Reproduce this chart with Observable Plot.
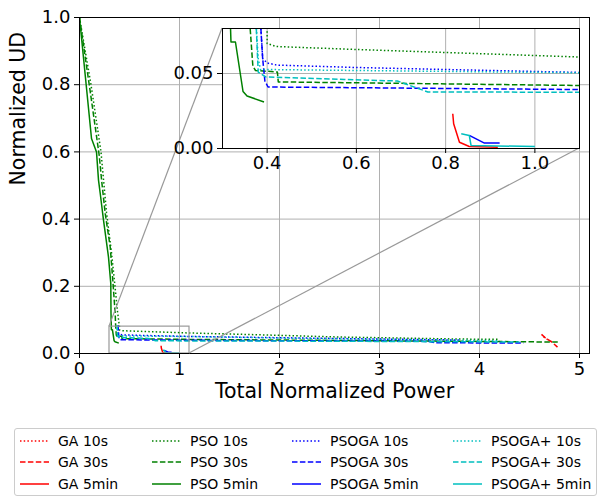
<!DOCTYPE html>
<html><head><meta charset="utf-8">
<script src="https://cdn.jsdelivr.net/npm/d3@7"></script>
<script src="https://cdn.jsdelivr.net/npm/@observablehq/plot@0.6"></script>
<style>
body{margin:0;background:#fff;font-family:"DejaVu Sans",sans-serif;}
#wrap{position:relative;width:601px;height:498px;overflow:hidden;background:#fff;}
#legend{position:absolute;left:14px;top:428px;width:583px;height:68px;border:1px solid #cccccc;border-radius:3px;background:#fff;box-sizing:border-box;font-size:14px;color:#000;}
.item{position:absolute;height:20px;line-height:20px;white-space:nowrap;}
.item svg{position:absolute;left:0;top:0;}
.item span{position:absolute;left:38px;top:0;}
</style></head><body><div id="wrap"></div><script>
// ---------- data ----------
const algorithms = ["GA", "PSO", "PSOGA", "PSOGA+"];
const budgets = ["10s", "30s", "5min"];
const algoColors = ["#ff0000", "#008000", "#0000ff", "#00bfbf"];
const budgetDash = ["1.5,2.2", "5.5,2.4", null];

const xTicks = [0, 1, 2, 3, 4, 5];
const yTicks = [0, 0.2, 0.4, 0.6, 0.8, 1.0];
const insetXTicks = [0.4, 0.6, 0.8, 1.0];
const insetYTicks = [0, 0.05];
const mainXDomain = [0, 5.1];
const mainYDomain = [0, 1.0];
const zoomXDomain = [0.3, 1.1];
const zoomYDomain = [0, 0.08];

const ga10s = [[4.64,0.050],[4.70,0.038]];
const ga30s = [[4.62,0.057],[4.66,0.046],[4.72,0.035],[4.78,0.019]];
const ga5min = [[0.816,0.0232],[0.818,0.0165],[0.831,0.0042],[0.853,0.0013],[0.917,0.0009]];

const pso10s = [[0,1.0],[0.115,0.80],[0.215,0.60],[0.27,0.42],[0.32,0.30],[0.355,0.20],[0.378,0.13],[0.395,0.09],[0.40,0.08],[0.40,0.070],[0.42,0.068],[0.6,0.066],[1.1,0.061],[1.5,0.058],[2.0,0.054],[2.6,0.049],[3.2,0.046],[3.8,0.043],[4.2,0.042]];
const pso30s = [[0,1.0],[0.107,0.78],[0.197,0.59],[0.223,0.51],[0.257,0.417],[0.307,0.317],[0.333,0.218],[0.357,0.118],[0.362,0.08],[0.368,0.055],[0.374,0.052],[0.423,0.051],[0.425,0.0444],[1.1,0.042],[2.0,0.040],[3.0,0.038],[4.0,0.036],[4.79,0.034]];
const pso5min = [[0,1.0],[0.12,0.64],[0.17,0.60],[0.19,0.516],[0.207,0.477],[0.24,0.397],[0.29,0.287],[0.313,0.208],[0.315,0.12],[0.318,0.08],[0.319,0.071],[0.329,0.071],[0.346,0.038],[0.355,0.035],[0.393,0.031]];

const psoga10s = [[0.385,0.085],[0.39,0.060],[0.40,0.057],[0.4225,0.0556],[0.6,0.054],[1.1,0.0507],[2.0,0.047],[3.0,0.043],[3.8,0.040]];
const psoga30s = [[0.385,0.085],[0.39,0.060],[0.395,0.045],[0.402,0.041],[1.1,0.0393],[2.0,0.038],[3.0,0.037],[3.5,0.036],[3.55,0.032],[4.44,0.031]];
const psoga5min = [[0.853,0.0087],[0.887,0.0036],[0.921,0.0036]];

const psogaPlus10s = [[0.375,0.085],[0.38,0.060],[0.385,0.0527],[0.6,0.052],[1.1,0.0505],[2.0,0.046],[3.0,0.042],[4.2,0.038]];
const psogaPlus30s = [[0.375,0.085],[0.38,0.051],[0.397,0.0477],[0.573,0.046],[0.692,0.045],[0.76,0.0377],[1.1,0.0375],[2.0,0.037],[3.0,0.036],[4.4,0.034]];
const psogaPlus5min = [[0.835,0.0098],[0.853,0.0087],[0.857,0.002],[1.0,0.0013]];

const seriesPoints = [
  [ga10s, ga30s, ga5min],
  [pso10s, pso30s, pso5min],
  [psoga10s, psoga30s, psoga5min],
  [psogaPlus10s, psogaPlus30s, psogaPlus5min]
];

// ---------- build ----------
const series = [];
algorithms.forEach((a, i) => budgets.forEach((b, j) => {
  series.push({label: `${a} ${b}`, color: algoColors[i], dash: budgetDash[j],
    rows: seriesPoints[i][j].map(([x, y]) => ({x, y}))});
}));

const lineMarks = (clip) => series.map(s => Plot.line(s.rows, {
  x: "x", y: "y", stroke: s.color, strokeWidth: 1.5,
  strokeDasharray: s.dash || undefined, clip, strokeLinejoin: "round", strokeLinecap: "butt"
}));

const FONT = "DejaVu Sans";
const wrap = document.getElementById("wrap");

const main = Plot.plot({
  width: 601, height: 420,
  marginLeft: 79, marginRight: 12, marginTop: 17, marginBottom: 67,
  x: {domain: mainXDomain}, y: {domain: mainYDomain},
  style: {fontFamily: FONT, background: "white", color: "black", overflow: "visible"},
  marks: [
    Plot.gridX(xTicks, {stroke: "#b0b0b0", strokeOpacity: 1, strokeWidth: 1}),
    Plot.gridY(yTicks, {stroke: "#b0b0b0", strokeOpacity: 1, strokeWidth: 1}),
    ...lineMarks(true),
    Plot.rect([{x1: zoomXDomain[0], x2: zoomXDomain[1], y1: zoomYDomain[0], y2: zoomYDomain[1]}],
      {x1: "x1", x2: "x2", y1: "y1", y2: "y2", fill: "none", stroke: "#999999", strokeWidth: 1.2}),
    Plot.frame({stroke: "black", strokeWidth: 1}),
    Plot.axisX(xTicks, {tickSize: 5, tickPadding: 4, fontSize: 18, tickFormat: "d", label: null}),
    Plot.axisY(yTicks, {tickSize: 5, tickPadding: 4, fontSize: 18, tickFormat: ".1f", label: null}),
    Plot.text(["Total Normalized Power"], {text: d => d, frameAnchor: "bottom", dy: 44, fontSize: 20.5}),
    Plot.text(["Normalized UD"], {text: d => d, frameAnchor: "left", dx: -61, rotate: -90, fontSize: 20.5})
  ]
});
main.style.position = "absolute"; main.style.left = "0px"; main.style.top = "0px";
wrap.appendChild(main);

// inset placement (layout)
const IL = 222, IT = 28, IR = 579, IB = 148;
const iml = 60, imr = 10, imt = 5, imb = 36;
const inset = Plot.plot({
  width: (IR - IL) + iml + imr, height: (IB - IT) + imt + imb,
  marginLeft: iml, marginRight: imr, marginTop: imt, marginBottom: imb,
  x: {domain: zoomXDomain}, y: {domain: zoomYDomain},
  style: {fontFamily: FONT, background: "transparent", color: "black", overflow: "visible"},
  marks: [
    Plot.frame({fill: "white", stroke: "none"}),
    Plot.gridX(insetXTicks, {stroke: "#b0b0b0", strokeOpacity: 1, strokeWidth: 1}),
    Plot.gridY(insetYTicks, {stroke: "#b0b0b0", strokeOpacity: 1, strokeWidth: 1}),
    ...lineMarks(true),
    Plot.frame({stroke: "black", strokeWidth: 1}),
    Plot.axisX(insetXTicks, {tickSize: 5, tickPadding: 3, fontSize: 18, tickFormat: ".1f", label: null}),
    Plot.axisY(insetYTicks, {tickSize: 5, tickPadding: 4, fontSize: 18, tickFormat: ".2f", label: null})
  ]
});
inset.style.position = "absolute";
inset.style.left = (IL - iml) + "px"; inset.style.top = (IT - imt) + "px";
wrap.appendChild(inset);

// connector lines (mark_inset style) computed from the main scales
const sx = main.scale("x"), sy = main.scale("y");
const conn = [
  [[sx.apply(zoomXDomain[0]), sy.apply(zoomYDomain[1])], [IL, IT]],
  [[sx.apply(zoomXDomain[1]), sy.apply(zoomYDomain[0])], [IR, IB]]
];
d3.select(main).append("g").selectAll("line").data(conn).join("line")
  .attr("x1", d => d[0][0]).attr("y1", d => d[0][1])
  .attr("x2", d => d[1][0]).attr("y2", d => d[1][1])
  .attr("stroke", "#999999").attr("stroke-width", 1.2);

// legend
const legend = d3.select(wrap).append("div").attr("id", "legend");
const colX = [5, 137, 277, 438];
const rowY = [2, 23, 45];
series.forEach((s, k) => {
  const i = Math.floor(k / 3), j = k % 3;
  const it = legend.append("div").attr("class", "item")
    .style("left", colX[i] + "px").style("top", rowY[j] + "px");
  const sv = it.append("svg").attr("width", 32).attr("height", 20);
  sv.append("line").attr("x1", 0).attr("x2", 29).attr("y1", 10).attr("y2", 10)
    .attr("stroke", s.color).attr("stroke-width", 1.5)
    .attr("stroke-dasharray", s.dash);
  it.append("span").text(s.label);
});
</script></body></html>
